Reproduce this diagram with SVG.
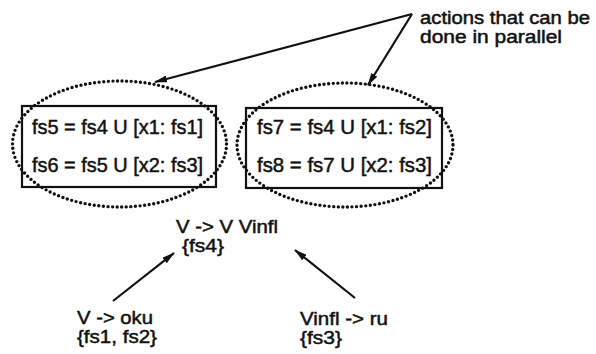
<svg xmlns="http://www.w3.org/2000/svg" width="596" height="354" viewBox="0 0 596 354">
<defs>
<style>
text{font-family:"Liberation Sans",Arial,sans-serif;fill:#111;stroke:#111;stroke-width:0.5}
.box{fill:none;stroke:#111;stroke-width:2.2}
.dots{fill:none;stroke:#111;stroke-width:3.4;stroke-linecap:round;stroke-dasharray:0 4.6}
.big{font-size:21px}
.mid{font-size:19px}
.note{font-size:18px}
.conn line{stroke:#111;stroke-width:2.2;marker-end:url(#ah)}
</style>
<marker id="ah" viewBox="0 0 13 7" refX="12" refY="3.5" markerWidth="13" markerHeight="7" markerUnits="userSpaceOnUse" orient="auto">
<path d="M0,0 L13,3.5 L0,7 Z" fill="#111"/>
</marker>
</defs>
<rect width="596" height="354" fill="#fff"/>
<g id="group-left">
<ellipse class="dots" cx="119.5" cy="144" rx="107" ry="63"/>
<rect class="box" x="22" y="106" width="194" height="81"/>
<text class="big" x="32" y="134" textLength="171" lengthAdjust="spacingAndGlyphs">fs5 = fs4 U [x1: fs1]</text>
<text class="big" x="32" y="172" textLength="171" lengthAdjust="spacingAndGlyphs">fs6 = fs5 U [x2: fs3]</text>
</g>
<g id="group-right">
<ellipse class="dots" cx="345" cy="145" rx="108" ry="62"/>
<rect class="box" x="246" y="108" width="196" height="80"/>
<text class="big" x="257" y="134" textLength="175" lengthAdjust="spacingAndGlyphs">fs7 = fs4 U [x1: fs2]</text>
<text class="big" x="257" y="172" textLength="175" lengthAdjust="spacingAndGlyphs">fs8 = fs7 U [x2: fs3]</text>
</g>
<g id="note">
<text class="note" x="420" y="24" textLength="170" lengthAdjust="spacingAndGlyphs">actions that can be</text>
<text class="note" x="420" y="43" textLength="142" lengthAdjust="spacingAndGlyphs">done in parallel</text>
</g>
<g id="rule-top">
<text class="mid" x="176" y="233" textLength="102" lengthAdjust="spacingAndGlyphs">V -&gt; V Vinfl</text>
<text class="mid" x="182" y="252" textLength="42" lengthAdjust="spacingAndGlyphs">{fs4}</text>
</g>
<g id="rule-oku">
<text class="mid" x="77" y="324" textLength="76" lengthAdjust="spacingAndGlyphs">V -&gt; oku</text>
<text class="mid" x="77" y="343" textLength="80" lengthAdjust="spacingAndGlyphs">{fs1, fs2}</text>
</g>
<g id="rule-ru">
<text class="mid" x="300" y="325" textLength="88" lengthAdjust="spacingAndGlyphs">Vinfl -&gt; ru</text>
<text class="mid" x="300" y="344" textLength="42" lengthAdjust="spacingAndGlyphs">{fs3}</text>
</g>
<g id="connectors" class="conn">
<line x1="412" y1="14" x2="155" y2="82"/>
<line x1="412" y1="14" x2="368" y2="85"/>
<line x1="113" y1="301" x2="174" y2="253"/>
<line x1="355" y1="298" x2="295" y2="250"/>
</g>
</svg>
